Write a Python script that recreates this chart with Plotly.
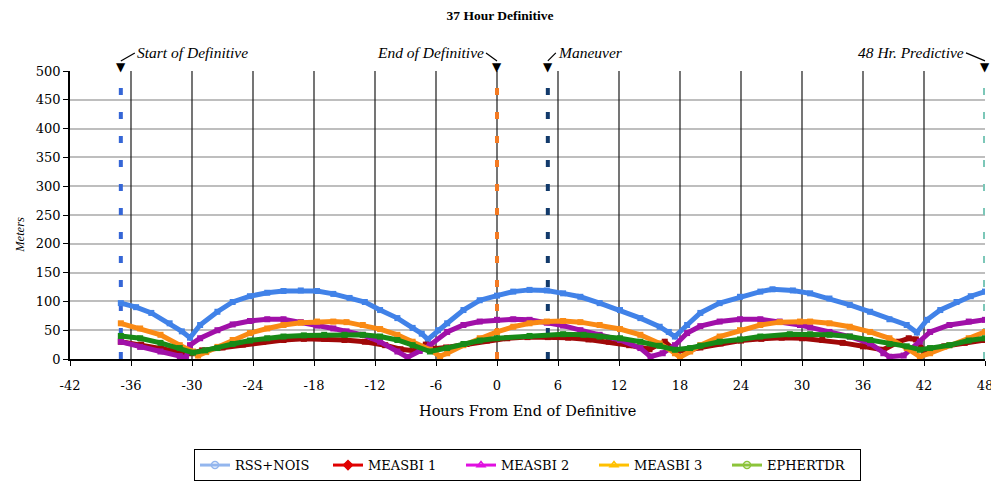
import plotly.graph_objects as go

# ---------------- data ----------------
rss_x = [-37, -35.5, -34, -32.2, -31, -30.2, -29.2, -27.5, -26, -24.3, -22.6, -21, -19.3, -17.7, -16.1,
         -14.5, -13, -11.5, -9.8, -8.3, -7.4, -6.8, -5.8, -4.9, -3.3, -1.7, 0, 1.6, 3.2, 4.9, 6.5, 8.2,
         10.1, 12.1, 14.1, 16, 16.9, 17.5, 18.7, 20, 21.9, 23.9, 25.9, 27.1, 29.1, 30.8, 32.7, 34.7,
         36.7, 38.6, 40.3, 41.3, 42.3, 43.6, 45.2, 46.6, 48]
rss_y = [97, 90, 80, 62, 48, 37, 59, 82, 99, 109, 115, 118, 119, 118, 113, 106, 99, 85, 71, 54, 44, 34,
         50, 62, 85, 102, 110, 117, 120, 119, 114, 108, 97, 85, 71, 56, 47, 39, 59, 80, 97, 108, 117,
         121, 119, 114, 105, 94, 82, 69, 59, 46, 68, 85, 99, 109, 117]

m1_x = [-37, -35, -33, -31, -30, -29, -27, -25, -23, -21, -19, -17, -15, -13, -11, -9.5, -8, -7, -6.2,
        -5, -3, -1, 1, 3, 5, 7, 9, 11, 13, 15, 16.5, 17.5, 18.5, 20, 22, 24, 26, 28, 30, 32, 34, 36,
        38, 39.5, 40.5, 41.2, 42, 44, 46, 48]
m1_y = [30, 25, 18, 12, 10, 15, 20, 25, 30, 33, 35, 35, 33, 30, 24, 17, 14, 25, 18, 20, 26, 32, 36, 38,
        38, 37, 34, 30, 24, 17, 30, 15, 14, 20, 27, 32, 35, 37, 36, 33, 28, 22, 16, 30, 36, 34, 14, 22,
        28, 33]

m2_x = [-37, -35.1, -33.1, -31.2, -30.6, -30.2, -29.2, -27.5, -26, -24.3, -22.6, -21, -19.3, -17.7,
        -16.1, -14.8, -13.2, -11.5, -9.8, -8.8, -7.6, -6.6, -4.9, -3.3, -1.7, 0, 1.6, 3.2, 4.9, 6.5,
        8.2, 10.1, 12.1, 14.1, 15.1, 16.3, 17.5, 18.7, 20, 21.9, 23.9, 25.9, 27.8, 29.8, 30.8, 32.7,
        34.7, 36.7, 38, 38.6, 40, 41.6, 42.6, 44.5, 46.4, 48]
m2_y = [30, 21, 13, 5, 2, 24, 36, 50, 60, 66, 69, 69, 64, 58, 53, 48, 42, 30, 13, 3, 14, 24, 47, 59, 65,
        68, 69, 68, 63, 58, 50, 42, 33, 19, 4, 10, 24, 45, 57, 65, 69, 69, 65, 59, 55, 47, 39, 27, 10,
        4, 6, 30, 47, 59, 65, 68]

m3_x = [-37, -35.1, -33.1, -31.2, -29.9, -29.4, -28.6, -27.5, -26, -24.3, -22.6, -21, -19.3, -17.7,
        -16.1, -14.8, -13.2, -11.5, -9.8, -8.3, -6.6, -5.6, -4.9, -3.3, -1.7, 0, 1.6, 3.2, 4.9, 6.5,
        8.2, 10.1, 12.1, 14.1, 16, 17.5, 18, 19, 20, 21.9, 23.9, 25.9, 27.8, 29.8, 30.8, 32.7, 34.7,
        36.7, 38.6, 40.3, 41.6, 42.6, 44.5, 46.4, 48]
m3_y = [62, 53, 42, 24, 13, 6, 12, 21, 33, 45, 53, 59, 63, 65, 65, 64, 59, 52, 42, 30, 16, 5, 10, 24,
        36, 47, 56, 62, 65, 66, 64, 59, 52, 42, 27, 10, 3, 13, 24, 39, 50, 59, 64, 65, 65, 62, 56, 47,
        36, 19, 4, 10, 24, 36, 47]

eph_x = [-37, -35.1, -33.1, -31.2, -29.9, -28.7, -27.5, -26, -24.3, -22.6, -21, -19, -17, -15, -13.2,
         -11.5, -9.8, -8.3, -6.6, -4.9, -3.3, -1.7, 0, 3.2, 6.5, 8.5, 10.1, 12.1, 14.1, 16, 17.5, 19,
         20, 21.9, 23.9, 25.9, 28.8, 30.8, 32.7, 34.7, 36.7, 38.6, 40.3, 41.6, 42.6, 44.5, 46.4, 48]
eph_y = [40, 36, 28, 19, 11, 15, 19, 26, 32, 36, 39, 41, 42, 42, 42, 39, 33, 24, 13, 19, 26, 32, 36, 40,
         43, 42, 39, 36, 30, 23, 16, 19, 23, 30, 34, 39, 43, 43, 42, 39, 33, 26, 22, 16, 19, 24, 32, 36]

series_names = ["RSS+NOIS", "MEASBI 1", "MEASBI 2", "MEASBI 3", "EPHERTDR"]

x_ticks = list(range(-42, 49, 6))
y_ticks = list(range(0, 501, 50))

events = ["Start of Definitive", "End of Definitive", "Maneuver", "48 Hr. Predictive"]
event_hours = [-37, 0, 5, 48]

# ---------------- styles ----------------
SERIF = "Liberation Serif, Times New Roman, serif"
WIDE = "DejaVu Serif, serif"
plot_colors = ["#4182E8", "#A00808", "#A010A8", "#FA8A14", "#178A17"]
legend_colors = ["#93B6EE", "#E00000", "#E010E0", "#FFC000", "#8CC43A"]
symbols = ["circle-open", "diamond", "triangle-up-open", "triangle-up-open", "circle-open"]
event_colors = ["#3566D6", "#F47A22", "#123A6B", "#7CC7B8"]
# label pixel offsets (tail of the hook arrow) and anchor side
event_label = [(14, "left"), (-11, "right"), (8, "left"), (-19, "right")]

xs = [rss_x, m1_x, m2_x, m3_x, eph_x]
ys = [rss_y, m1_y, m2_y, m3_y, eph_y]

fig = go.Figure()

for name, x, y, c in zip(series_names, xs, ys, plot_colors):
    fig.add_trace(go.Scatter(x=x, y=y, mode="lines+markers", name=name, showlegend=False,
                             line=dict(color=c, width=5),
                             marker=dict(color=c, size=6, symbol="square"),
                             hoverinfo="skip"))

# legend-only entries (legend uses lighter colours in the reference)
for name, c, s in zip(series_names, legend_colors, symbols):
    fig.add_trace(go.Scatter(x=[None], y=[None], mode="lines+markers", name=name,
                             line=dict(color=c, width=3),
                             marker=dict(color=c, size=7, symbol=s, line=dict(width=1.5, color=c))))

# vertical grid lines (black) at interior ticks
for t in x_ticks[1:-1]:
    fig.add_shape(type="line", x0=t, x1=t, y0=0, y1=500, xref="x", yref="y",
                  line=dict(color="#1a1a1a", width=1.2), layer="between")

# event dashed lines
for h, c in zip(event_hours, event_colors):
    fig.add_shape(type="line", x0=h, x1=h, y0=0, y1=500, xref="x", yref="y",
                  line=dict(color=c, width=4, dash="7px,17px"), layer="between")

annotations = []
for ev, h, (off, anc) in zip(events, event_hours, event_label):
    # down-pointing triangle at top of the event line
    annotations.append(dict(x=h, y=1.0, xref="x", yref="paper", text="▼", showarrow=False,
                            xanchor="center", yanchor="bottom", yshift=-5,
                            font=dict(family="DejaVu Sans", size=12, color="black")))
    # label with a small hook line
    annotations.append(dict(x=h, y=1.035, xref="x", yref="paper", ax=off, ay=-8, text=ev,
                            showarrow=True, arrowhead=0, arrowwidth=1.2, arrowcolor="black",
                            xanchor=anc, yanchor="middle",
                            font=dict(family=SERIF, size=15.5, style="italic", color="black")))

annotations.append(dict(x=0.5, y=-0.18, xref="paper", yref="paper", text="Hours From End of Definitive",
                        showarrow=False, xanchor="center", yanchor="middle",
                        font=dict(family=WIDE, size=14.5, color="black")))
annotations.append(dict(x=-0.055, y=0.43, xref="paper", yref="paper", text="Meters", textangle=-90,
                        showarrow=False, xanchor="center", yanchor="middle",
                        font=dict(family=SERIF, size=12.5, style="italic", color="black")))

fig.update_layout(
    width=991, height=482,
    margin=dict(l=70, r=6, t=71, b=123, autoexpand=False),
    paper_bgcolor="white", plot_bgcolor="white",
    title=dict(text="<b>37 Hour Definitive</b>", x=500 / 991, xref="container", xanchor="center",
               y=1 - 15 / 482, yref="container", yanchor="middle",
               font=dict(family=SERIF, size=13.5, color="black")),
    font=dict(family=SERIF, size=13, color="black"),
    annotations=annotations,
    showlegend=True,
    legend=dict(orientation="h", x=0.5, xanchor="center", y=-0.424, yanchor="bottom",
                bordercolor="black", borderwidth=1, bgcolor="white",
                font=dict(family=WIDE, size=13, color="black"), itemwidth=30,
                entrywidth=88, entrywidthmode="pixels", tracegroupgap=0),
)

fig.update_xaxes(range=[-42, 48], tickvals=x_ticks, ticktext=[str(t) for t in x_ticks],
                 showgrid=False, zeroline=False, showline=True, linecolor="black", linewidth=2,
                 ticks="outside", ticklen=5, tickcolor="black", ticklabelstandoff=8,
                 ticklabeloverflow="allow",
                 tickfont=dict(family=WIDE, size=13, color="black"), fixedrange=True)
fig.update_yaxes(range=[0, 500], tickvals=y_ticks, showgrid=True, gridcolor="#BEBEBE", gridwidth=1.5,
                 zeroline=False, showline=True, linecolor="black", linewidth=1.5,
                 ticks="outside", ticklen=5, tickcolor="black",
                 tickfont=dict(family=WIDE, size=13, color="black"), fixedrange=True)

fig.write_html("out.html")
